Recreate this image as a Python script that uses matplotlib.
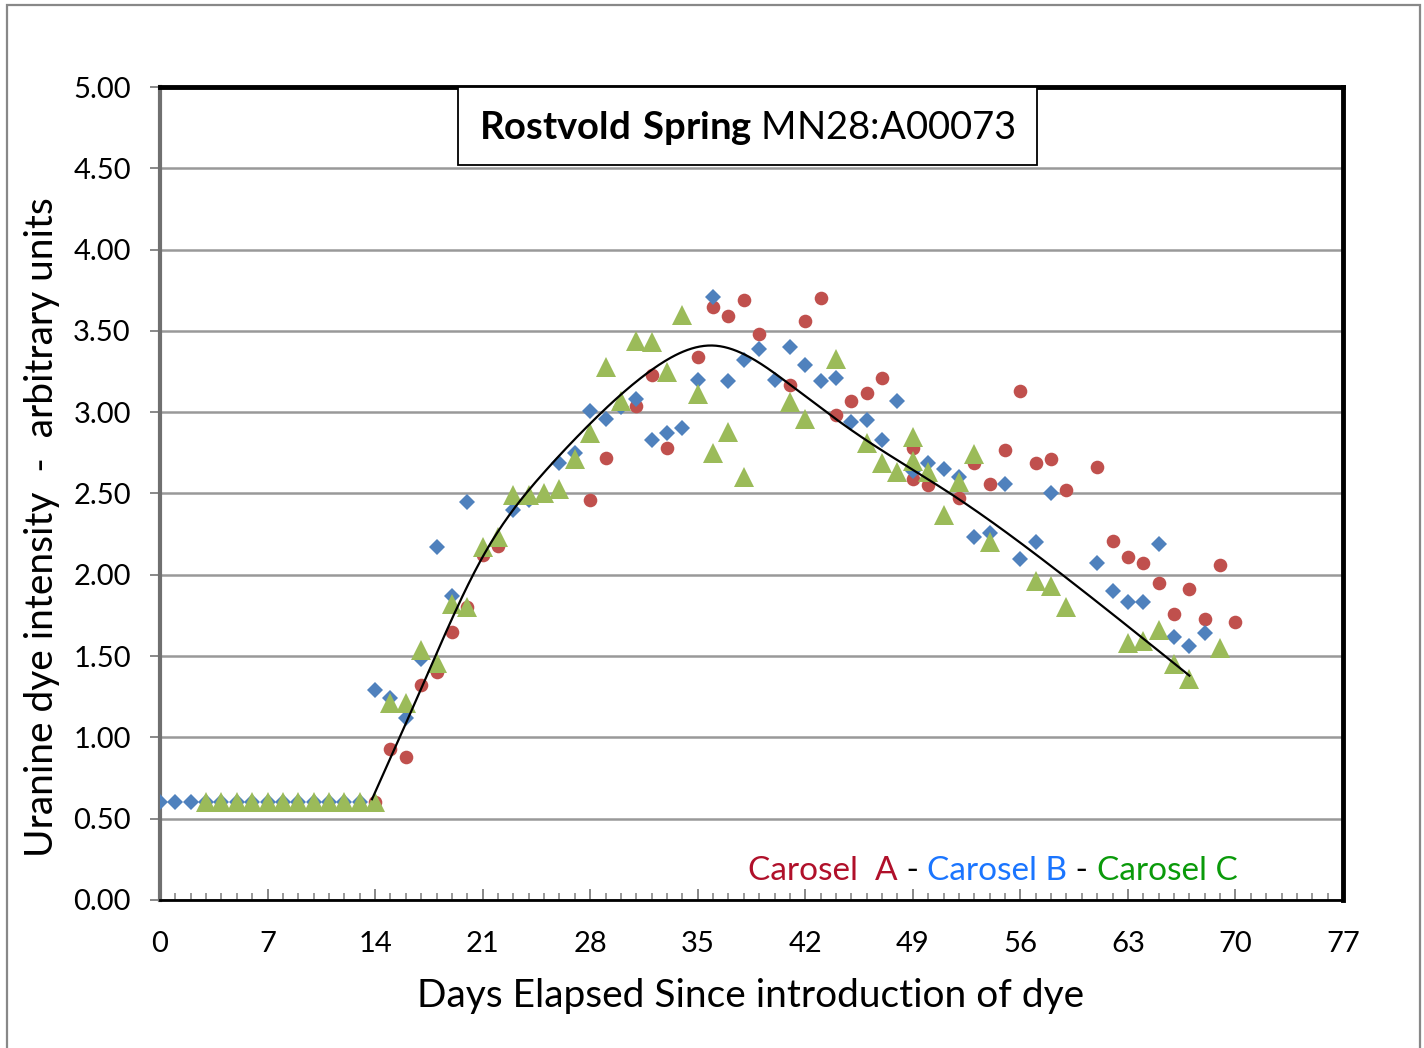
import numpy as np
import matplotlib
matplotlib.use('Agg')
import matplotlib.pyplot as plt
from matplotlib.patches import Rectangle
from matplotlib.ticker import MultipleLocator, FormatStrFormatter

plt.rcParams['font.family'] = ['Lato', 'DejaVu Sans']
plt.rcParams['mathtext.fontset'] = 'custom'
plt.rcParams['mathtext.rm'] = 'Lato'
plt.rcParams['mathtext.bf'] = 'Lato:bold'

# ---------------- data ----------------
# Carosel A (red circles)
a_days = [14, 15, 16, 17, 18, 19, 20, 21, 22, 28, 29, 31, 32, 33, 35, 36, 37, 38, 39,
          41, 42, 43, 44, 45, 46, 47, 49, 49, 50, 52, 53, 54, 55, 56, 57, 58, 59,
          61, 62, 63, 64, 65, 66, 67, 68, 69, 70]
a_vals = [0.60, 0.93, 0.88, 1.32, 1.40, 1.65, 1.80, 2.12, 2.18, 2.46, 2.72, 3.04, 3.23, 2.78, 3.34, 3.65, 3.59, 3.69, 3.48,
          3.17, 3.56, 3.70, 2.98, 3.07, 3.12, 3.21, 2.78, 2.59, 2.55, 2.47, 2.69, 2.56, 2.77, 3.13, 2.69, 2.71, 2.52,
          2.66, 2.21, 2.11, 2.07, 1.95, 1.76, 1.91, 1.73, 2.06, 1.71]

# Carosel B (blue diamonds)
b_days = [0, 1, 2, 3, 4, 5, 6, 7, 8, 9, 10, 11, 12, 13, 14, 15, 16, 17, 18, 19, 20,
          23, 24, 26, 27, 28, 29, 30, 31, 32, 33, 34, 35, 36, 37, 38, 39, 40, 41, 42,
          43, 44, 45, 46, 47, 48, 49, 50, 51, 52, 53, 54, 55, 56, 57, 58,
          61, 62, 63, 64, 65, 66, 67, 68]
b_vals = [0.60, 0.60, 0.60, 0.60, 0.60, 0.60, 0.60, 0.60, 0.60, 0.60, 0.60, 0.60, 0.60, 0.60,
          1.29, 1.24, 1.12, 1.48, 2.17, 1.87, 2.45,
          2.40, 2.46, 2.69, 2.75, 3.01, 2.96, 3.03, 3.08, 2.83, 2.87, 2.90, 3.20, 3.71, 3.19, 3.32, 3.39, 3.20, 3.40, 3.29,
          3.19, 3.21, 2.94, 2.95, 2.83, 3.07, 2.64, 2.69, 2.65, 2.60, 2.23, 2.26, 2.56, 2.10, 2.20, 2.50,
          2.07, 1.90, 1.83, 1.83, 2.19, 1.62, 1.56, 1.64]

# Carosel C (green triangles)
c_days = [3, 4, 5, 6, 7, 8, 9, 10, 11, 12, 13, 14, 15, 16, 17, 18, 19, 20, 21, 22,
          23, 24, 25, 26, 27, 28, 29, 30, 31, 32, 33, 34, 35, 36, 37, 38, 41, 42, 44,
          46, 47, 48, 49, 49, 50, 51, 52, 53, 54, 57, 58, 59, 63, 64, 65, 66, 67, 69]
c_vals = [0.60, 0.60, 0.60, 0.60, 0.60, 0.60, 0.60, 0.60, 0.60, 0.60, 0.60, 0.60, 1.21, 1.21, 1.54, 1.46, 1.82, 1.80, 2.17, 2.23,
          2.49, 2.49, 2.50, 2.53, 2.71, 2.87, 3.28, 3.07, 3.44, 3.43, 3.25, 3.60, 3.11, 2.75, 2.88, 2.60, 3.06, 2.96, 3.33,
          2.81, 2.69, 2.63, 2.85, 2.70, 2.63, 2.37, 2.57, 2.74, 2.20, 1.96, 1.93, 1.80, 1.58, 1.59, 1.66, 1.45, 1.36, 1.55]

# Hand-fitted trend curve (smoothed line through these knots)
trend_days = [13.8, 17, 21, 25, 28, 32, 36, 41, 45, 51.6, 58.6, 67]
trend_vals = [0.62, 1.30, 2.11, 2.63, 2.93, 3.26, 3.41, 3.17, 2.89, 2.49, 2.01, 1.38]

x_ticks_step = 7
y_ticks_step = 0.5


def natural_spline(x, y, xs):
    x = np.asarray(x, float)
    y = np.asarray(y, float)
    n = len(x)
    h = np.diff(x)
    A = np.zeros((n, n))
    r = np.zeros(n)
    A[0, 0] = A[-1, -1] = 1
    for i in range(1, n - 1):
        A[i, i - 1] = h[i - 1]
        A[i, i] = 2 * (h[i - 1] + h[i])
        A[i, i + 1] = h[i]
        r[i] = 3 * ((y[i + 1] - y[i]) / h[i] - (y[i] - y[i - 1]) / h[i - 1])
    c = np.linalg.solve(A, r)
    b = (y[1:] - y[:-1]) / h - h * (2 * c[:-1] + c[1:]) / 3
    d = (c[1:] - c[:-1]) / (3 * h)
    idx = np.clip(np.searchsorted(x, xs) - 1, 0, n - 2)
    dx = xs - x[idx]
    return y[idx] + b[idx] * dx + c[idx] * dx ** 2 + d[idx] * dx ** 3


W, H = 1424, 1048
fig = plt.figure(figsize=(W / 100, H / 100), dpi=100)
fig.patch.set_facecolor('white')

# outer chart border
fig.patches.append(Rectangle((7 / W, -0.05), (1420 - 7) / W, 1 - 5 / H + 0.05,
                             transform=fig.transFigure, fill=False,
                             edgecolor='#888888', linewidth=1.6))

ax = fig.add_axes([160 / W, 1 - 900 / H, (1343 - 160) / W, (900 - 87) / H])

ax.plot(a_days, a_vals, linestyle='none', marker='o', markersize=9.8,
        color='#C0504D', markeredgewidth=0, zorder=3)
ax.plot(b_days, b_vals, linestyle='none', marker='D', markersize=8.4,
        color='#4F81BD', markeredgewidth=0, zorder=4)
ax.plot(c_days, c_vals, linestyle='none', marker='^', markersize=15,
        color='#9BBB59', markeredgewidth=0, zorder=5)

xs = np.linspace(trend_days[0], trend_days[-1], 400)
ax.plot(xs, natural_spline(trend_days, trend_vals, xs), color='black', lw=1.6, zorder=6)

ax.set_xlim(0, 77)
ax.set_ylim(0, 5)
ax.xaxis.set_major_locator(MultipleLocator(x_ticks_step))
ax.xaxis.set_minor_locator(MultipleLocator(1))
ax.yaxis.set_major_locator(MultipleLocator(y_ticks_step))
ax.yaxis.set_major_formatter(FormatStrFormatter('%.2f'))

ax.tick_params(axis='x', which='major', direction='in', length=8, width=1.4,
               color='#888888', labelsize=21, pad=22)
ax.tick_params(axis='x', which='minor', direction='in', length=5, width=1.2,
               color='#888888')
ax.tick_params(axis='y', which='major', direction='out', length=7, width=1.4,
               color='#888888', labelsize=21, pad=14)

ax.yaxis.grid(True, color='#999999', linewidth=1.8)
ax.set_axisbelow(True)

ax.spines['left'].set_color('#707070')
ax.spines['left'].set_linewidth(3)
ax.spines['bottom'].set_color('black')
ax.spines['bottom'].set_linewidth(2)
ax.spines['top'].set_color('black')
ax.spines['top'].set_linewidth(3.5)
ax.spines['right'].set_color('black')
ax.spines['right'].set_linewidth(3.5)

# title box
ax.add_patch(Rectangle((0.252, 0.904), 0.489, 0.096, transform=ax.transAxes,
                       facecolor='white', edgecolor='black', linewidth=1.3,
                       zorder=7, clip_on=False))
ax.text(0.497, 0.950, r'$\mathbf{Rostvold\ Spring}$ MN28:A00073',
        transform=ax.transAxes, ha='center', va='center', fontsize=27.5, zorder=8)

# colored legend text
parts = [('Carosel  A', '#B0102A'), (' - ', 'black'), ('Carosel B', '#1A75FF'),
         (' - ', 'black'), ('Carosel C', '#0A9A0A')]
prev = None
for txt, col in parts:
    if prev is None:
        prev = ax.text((748 - 160) / 1183, (900 - 880) / 813, txt, transform=ax.transAxes,
                       ha='left', va='baseline', fontsize=24, color=col, zorder=8)
    else:
        prev = ax.annotate(txt, xy=(1, 0), xycoords=prev, ha='left', va='bottom',
                           fontsize=24, color=col, zorder=8)

fig.text(751 / W, 1 - 996 / H, 'Days Elapsed Since introduction of dye',
         ha='center', va='center', fontsize=28)
fig.text(42 / W, 1 - 527 / H, 'Uranine dye intensity  -  arbitrary units',
         ha='center', va='center', rotation=90, fontsize=28)

fig.savefig('out.png', dpi=100)
